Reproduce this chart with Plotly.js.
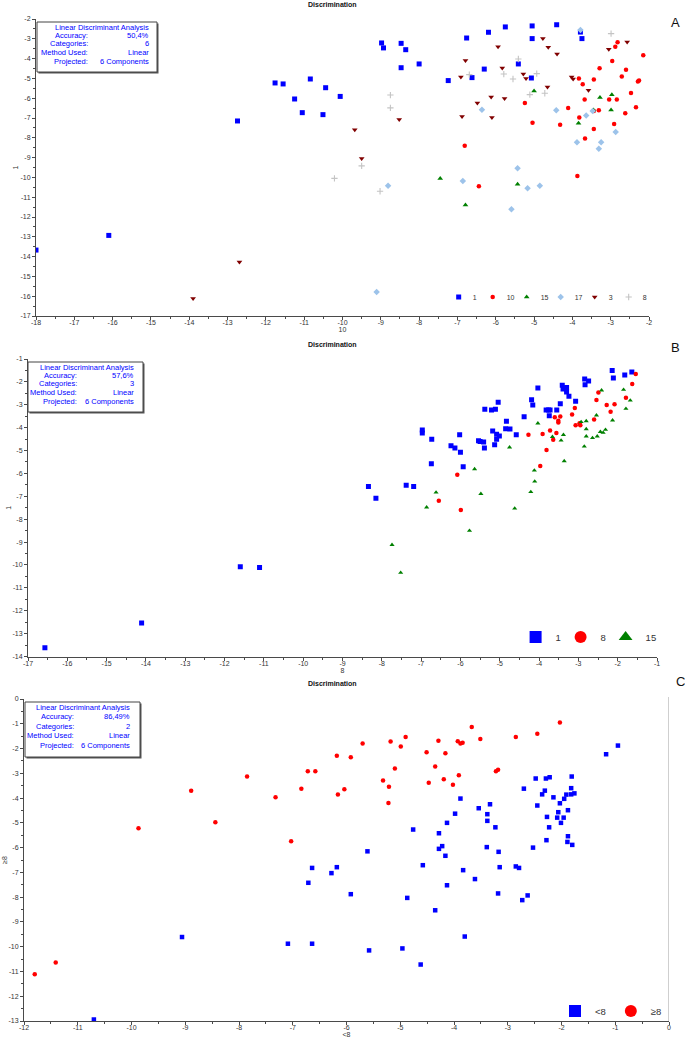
<!DOCTYPE html>
<html><head><meta charset="utf-8">
<script src="https://cdn.plot.ly/plotly-3.0.1.min.js"></script>
<style>html,body{margin:0;padding:0;background:#fff}#chart{width:685px;height:1042px}</style>
</head><body><div id="chart"></div>
<script>
// ---------- Panel A (6 categories) ----------
const A_cat1 = [[-18.00,-13.67],[-16.10,-12.93],[-12.74,-7.15],[-11.76,-5.23],[-11.55,-5.28],[-10.84,-5.03],[-10.44,-5.47],[-11.25,-6.04],[-10.06,-5.91],[-11.05,-6.73],[-10.51,-6.83],[-8.98,-3.21],[-8.93,-3.46],[-8.47,-3.23],[-8.35,-3.55],[-8.47,-4.46],[-8.00,-4.27],[-7.24,-5.11],[-6.76,-2.96],[-6.62,-4.96],[-6.30,-4.53],[-6.19,-2.67],[-5.75,-2.40],[-5.41,-4.27],[-5.05,-2.35],[-5.05,-2.99],[-5.07,-4.98],[-4.41,-2.29],[-3.79,-2.66],[-3.75,-2.99]];
const A_cat10 = [[-2.82,-3.18],[-2.88,-3.40],[-2.15,-3.83],[-2.96,-4.12],[-3.29,-4.49],[-2.60,-4.56],[-2.71,-4.90],[-2.29,-5.16],[-2.26,-5.10],[-3.83,-5.00],[-3.73,-5.30],[-3.44,-5.06],[-2.47,-5.74],[-3.68,-6.06],[-3.04,-6.07],[-2.84,-6.06],[-5.24,-6.24],[-4.11,-6.49],[-3.44,-6.65],[-3.31,-6.61],[-2.34,-6.46],[-2.62,-6.76],[-3.82,-6.97],[-5.04,-7.24],[-4.32,-7.34],[-2.91,-7.30],[-3.44,-7.56],[-3.67,-8.04],[-6.81,-8.40],[-3.87,-9.93],[-6.44,-10.45]];
const A_cat15 = [[-5.00,-5.64],[-3.28,-5.97],[-2.97,-5.82],[-3.45,-6.60],[-2.99,-6.60],[-3.84,-7.27],[-7.45,-10.05],[-5.43,-10.35],[-6.79,-11.39]];
const A_cat17 = [[-3.79,-2.56],[-6.36,-6.58],[-4.42,-6.61],[-3.64,-6.87],[-3.47,-6.65],[-2.87,-7.71],[-3.88,-8.23],[-3.25,-8.23],[-3.31,-8.55],[-5.43,-9.54],[-6.86,-10.18],[-8.81,-10.42],[-5.17,-10.55],[-4.85,-10.42],[-5.59,-11.61],[-9.11,-15.79]];
const A_cat3 = [[-4.77,-2.99],[-4.63,-3.43],[-4.40,-3.77],[-2.57,-3.16],[-3.05,-3.53],[-5.94,-3.40],[-6.79,-4.10],[-5.83,-4.47],[-5.28,-4.78],[-5.21,-5.01],[-6.91,-4.93],[-4.02,-4.93],[-3.98,-5.03],[-4.65,-5.43],[-3.58,-5.60],[-6.12,-5.94],[-5.77,-6.02],[-6.48,-6.24],[-6.88,-6.92],[-6.10,-6.97],[-8.52,-7.08],[-9.68,-7.59],[-9.50,-9.05],[-13.90,-16.11],[-12.69,-14.27]];
const A_cat8 = [[-2.99,-2.74],[-5.41,-4.02],[-6.69,-4.81],[-5.79,-4.78],[-5.55,-5.03],[-4.93,-4.76],[-5.11,-5.82],[-4.72,-5.75],[-8.75,-5.84],[-8.75,-6.49],[-9.50,-9.42],[-10.21,-10.05],[-9.02,-10.70]];
const A_xticks = [-18,-17,-16,-15,-14,-13,-12,-11,-10,-9,-8,-7,-6,-5,-4,-3,-2];
const A_yticks = [-17,-16,-15,-14,-13,-12,-11,-10,-9,-8,-7,-6,-5,-4,-3,-2];
const A_info = [["","Linear Discriminant Analysis"],["Accuracy:","50,4%"],["Categories:","6"],["Method Used:","Linear"],["Projected:","6 Components"]];

// ---------- Panel B (3 categories) ----------
const B_cat1 = [[-16.57,-13.62],[-14.11,-12.54],[-11.60,-10.08],[-11.11,-10.11],[-8.34,-6.57],[-8.15,-7.09],[-7.38,-6.52],[-7.19,-6.57],[-6.97,-4.10],[-6.97,-4.23],[-6.73,-4.51],[-6.74,-5.58],[-6.24,-4.79],[-6.14,-4.89],[-6.00,-5.07],[-6.02,-4.31],[-5.93,-5.71],[-5.54,-4.57],[-5.50,-4.60],[-5.41,-4.63],[-5.39,-4.89],[-5.38,-3.20],[-5.21,-3.23],[-5.11,-3.20],[-5.04,-2.89],[-5.18,-4.15],[-5.08,-4.29],[-5.01,-4.37],[-5.08,-4.51],[-5.13,-4.75],[-4.83,-3.72],[-4.85,-4.05],[-4.74,-4.06],[-4.58,-4.31],[-4.38,-3.52],[-4.19,-2.78],[-4.16,-3.01],[-4.03,-2.27],[-3.82,-3.23],[-3.76,-3.23],[-3.72,-3.23],[-3.74,-3.48],[-3.55,-3.23],[-3.46,-2.95],[-3.41,-2.15],[-3.39,-2.31],[-3.30,-2.24],[-3.30,-2.44],[-3.24,-2.63],[-3.07,-2.85],[-2.84,-1.87],[-2.74,-1.96],[-2.83,-2.12],[-2.14,-1.50],[-2.11,-1.83],[-1.82,-1.70],[-1.64,-1.57]];
const B_cat8 = [[-1.54,-1.66],[-1.63,-2.09],[-1.79,-2.69],[-2.49,-2.46],[-2.54,-2.79],[-2.28,-3.01],[-2.08,-2.98],[-2.18,-3.30],[-2.60,-3.64],[-3.09,-3.14],[-3.16,-3.42],[-3.07,-3.90],[-2.97,-3.81],[-2.95,-3.89],[-3.46,-3.51],[-3.51,-3.70],[-3.51,-3.77],[-3.60,-3.55],[-3.72,-4.12],[-3.56,-4.23],[-3.64,-4.53],[-3.91,-4.28],[-4.27,-4.31],[-3.81,-4.98],[-3.97,-5.68],[-6.08,-6.06],[-6.55,-7.19],[-5.99,-7.60]];
const B_cat15 = [[-2.41,-2.37],[-1.85,-2.34],[-1.68,-2.81],[-1.79,-3.17],[-2.54,-3.46],[-2.80,-3.71],[-2.93,-3.75],[-2.13,-3.68],[-2.80,-4.06],[-2.80,-4.38],[-2.31,-4.09],[-2.44,-4.18],[-2.37,-4.22],[-2.52,-4.38],[-2.64,-4.45],[-2.85,-4.82],[-3.38,-4.31],[-3.66,-4.40],[-3.44,-4.56],[-4.03,-3.81],[-4.75,-4.86],[-3.36,-5.46],[-4.12,-5.87],[-4.11,-6.35],[-4.21,-6.81],[-4.62,-7.53],[-5.48,-6.89],[-5.64,-5.81],[-6.62,-6.83],[-6.86,-7.48],[-5.77,-8.50],[-7.74,-9.12],[-7.52,-10.34]];
const B_xticks = [-17,-16,-15,-14,-13,-12,-11,-10,-9,-8,-7,-6,-5,-4,-3,-2,-1];
const B_yticks = [-14,-13,-12,-11,-10,-9,-8,-7,-6,-5,-4,-3,-2,-1];
const B_info = [["","Linear Discriminant Analysis"],["Accuracy:","57,6%"],["Categories:","3"],["Method Used:","Linear"],["Projected:","6 Components"]];

// ---------- Panel C (2 categories) ----------
const C_lt8 = [[-10.70,-12.94],[-9.06,-9.61],[-7.09,-9.88],[-6.64,-9.88],[-6.71,-7.42],[-6.64,-6.82],[-6.28,-7.03],[-6.18,-6.79],[-5.92,-7.88],[-5.61,-6.15],[-5.58,-10.15],[-4.96,-10.07],[-4.87,-8.03],[-4.76,-5.27],[-4.62,-10.72],[-4.58,-6.71],[-4.35,-8.53],[-4.28,-5.42],[-4.28,-6.05],[-4.22,-5.94],[-4.16,-6.33],[-4.13,-7.52],[-4.13,-5.00],[-3.98,-4.63],[-3.88,-4.02],[-3.83,-6.91],[-3.80,-9.59],[-3.61,-7.27],[-3.54,-4.41],[-3.39,-5.98],[-3.38,-4.92],[-3.38,-4.65],[-3.33,-4.25],[-3.23,-5.18],[-3.18,-7.85],[-3.17,-6.17],[-3.15,-6.79],[-2.85,-6.76],[-2.79,-6.82],[-2.73,-8.12],[-2.63,-7.93],[-2.70,-3.62],[-2.53,-6.00],[-2.48,-3.21],[-2.45,-4.30],[-2.36,-3.85],[-2.31,-3.70],[-2.29,-3.21],[-2.22,-3.16],[-2.28,-5.70],[-2.27,-4.76],[-2.23,-5.18],[-2.15,-3.97],[-2.08,-4.79],[-2.06,-4.57],[-2.03,-4.21],[-2.01,-5.00],[-1.96,-4.79],[-1.95,-4.03],[-1.91,-3.86],[-1.88,-4.49],[-1.88,-5.54],[-1.89,-5.77],[-1.82,-3.60],[-1.82,-3.85],[-1.81,-3.13],[-1.76,-3.81],[-1.80,-5.89],[-1.17,-2.23],[-0.95,-1.88]];
const C_ge8 = [[-11.80,-11.11],[-11.41,-10.64],[-9.87,-5.22],[-8.89,-3.70],[-8.44,-4.98],[-7.85,-3.13],[-7.32,-3.97],[-7.03,-5.74],[-6.84,-3.62],[-6.72,-2.92],[-6.58,-2.92],[-6.18,-2.29],[-6.16,-3.86],[-6.04,-3.64],[-5.92,-2.35],[-5.70,-1.80],[-5.18,-1.72],[-4.90,-1.53],[-4.99,-1.92],[-5.10,-2.81],[-5.32,-3.29],[-5.21,-3.54],[-5.22,-4.20],[-4.51,-2.15],[-4.29,-1.69],[-4.16,-2.19],[-4.35,-2.73],[-4.47,-3.38],[-4.19,-3.24],[-4.02,-3.46],[-3.91,-3.08],[-3.93,-1.71],[-3.88,-1.80],[-3.84,-1.77],[-3.67,-1.13],[-3.51,-1.61],[-3.22,-2.92],[-3.18,-2.86],[-2.85,-1.53],[-2.45,-1.40],[-2.03,-0.95]];
const C_xticks = [-12,-11,-10,-9,-8,-7,-6,-5,-4,-3,-2,-1,0];
const C_yticks = [-13,-12,-11,-10,-9,-8,-7,-6,-5,-4,-3,-2,-1,0];
const C_info = [["","Linear Discriminant Analysis"],["Accuracy:","86,49%"],["Categories:","2"],["Method Used:","Linear"],["Projected:","6 Components"]];

// ---------- layout helpers ----------
const W = 685, H = 1042;
const FONT = 'Liberation Sans, Arial, sans-serif';
const px = v => v / W;
const py = v => 1 - v / H;

function trace(pts, name, xa, ya, legend, symbol, color, size, lineW) {
  return {
    type: 'scatter', mode: 'markers', name: name,
    x: pts.map(p => p[0]), y: pts.map(p => p[1]),
    xaxis: xa, yaxis: ya, legend: legend,
    marker: {symbol: symbol, color: color, size: size, line: {width: lineW || 0, color: color}},
    hoverinfo: 'x+y+name'
  };
}

function axis(dom, range, anchor, ticks, title, standoff, isX) {
  const a = {
    domain: dom, range: range, anchor: anchor, fixedrange: true,
    showgrid: false, zeroline: false, showline: true, linecolor: '#4a4a4a', linewidth: 1,
    ticks: 'outside', ticklen: 3, tickwidth: 1, tickcolor: '#4a4a4a',
    tickmode: 'array', tickvals: ticks, ticktext: ticks.map(String),
    tickfont: {family: FONT, size: 7, color: '#333'},
    minor: {tickmode: 'linear', tick0: 0, dtick: 0.5, ticks: 'outside', ticklen: 2, tickwidth: 1, tickcolor: '#4a4a4a', showgrid: false},
    title: {text: title, font: {family: FONT, size: 7, color: '#333'}, standoff: standoff}
  };
  if (isX) a.ticklabelstandoff = -3;
  return a;
}

const shapes = [], annotations = [];
function infoBox(info, x0, y0, x1, y1, lineYs, labelX, valueX) {
  shapes.push({type: 'rect', xref: 'paper', yref: 'paper', x0: px(x0 + 1.5), x1: px(x1 + 1.5), y0: py(y0 + 1.5), y1: py(y1 + 1.5), fillcolor: '#555', line: {width: 0}});
  shapes.push({type: 'rect', xref: 'paper', yref: 'paper', x0: px(x0), x1: px(x1), y0: py(y0), y1: py(y1), fillcolor: '#fff', line: {color: '#444', width: 1}});
  info.forEach((row, i) => {
    if (row[0]) annotations.push({xref: 'paper', yref: 'paper', x: px(labelX), y: py(lineYs[i]), xanchor: 'right', yanchor: 'middle', showarrow: false, text: row[0], font: {family: FONT, size: 7.5, color: '#0000ff'}});
    annotations.push({xref: 'paper', yref: 'paper', x: px(valueX), y: py(lineYs[i]), xanchor: 'right', yanchor: 'middle', showarrow: false, text: row[1], font: {family: FONT, size: 7.5, color: '#0000ff'}});
  });
}
function label(text, x, y, size, bold) {
  annotations.push({xref: 'paper', yref: 'paper', x: px(x), y: py(y), xanchor: 'center', yanchor: 'middle', showarrow: false,
    text: bold ? '<b>' + text + '</b>' : text, font: {family: FONT, size: size, color: '#111'}});
}

infoBox(A_info, 37, 22, 157, 72, [27.3, 35.7, 44, 52.3, 61.3], 90, 151);
infoBox(B_info, 28, 362, 143, 412, [367, 375.3, 383.7, 392.3, 401.3], 79, 136);
infoBox(C_info, 25, 702, 140, 757, [707.7, 716.7, 726, 735.7, 745], 76, 132);
label('Discrimination', 332, 4.5, 7, true);
label('Discrimination', 332, 344, 7, true);
label('Discrimination', 332, 683, 7, true);
label('A', 675, 22, 13, false);
label('B', 675, 348, 13, false);
label('C', 680, 681, 13, false);

// right gray border of panel C
shapes.push({type: 'line', xref: 'x3', yref: 'paper', x0: 0, x1: 0, y0: py(1021), y1: py(697), line: {color: '#cfcfcf', width: 2}});

const data = [
  trace(A_cat1, '1', 'x', 'y', 'legend', 'square', '#0000ff', 5),
  trace(A_cat10, '10', 'x', 'y', 'legend', 'circle', '#ff0000', 4.5),
  trace(A_cat15, '15', 'x', 'y', 'legend', 'triangle-up', '#008000', 5),
  trace(A_cat17, '17', 'x', 'y', 'legend', 'diamond', '#9dc3ea', 5),
  trace(A_cat3, '3', 'x', 'y', 'legend', 'triangle-down', '#800000', 5),
  trace(A_cat8, '8', 'x', 'y', 'legend', 'cross-thin-open', '#c4c4c4', 4.5, 1.1),
  trace(B_cat1, '1', 'x2', 'y2', 'legend2', 'square', '#0000ff', 5),
  trace(B_cat8, '8', 'x2', 'y2', 'legend2', 'circle', '#ff0000', 4.5),
  trace(B_cat15, '15', 'x2', 'y2', 'legend2', 'triangle-up', '#008000', 4.5),
  trace(C_lt8, '<8', 'x3', 'y3', 'legend3', 'square', '#0000ff', 4.5),
  trace(C_ge8, '≥8', 'x3', 'y3', 'legend3', 'circle', '#ff0000', 4.5)
];

const legBase = {orientation: 'h', xanchor: 'right', yanchor: 'middle', bgcolor: 'rgba(0,0,0,0)', borderwidth: 0, itemclick: false, itemdoubleclick: false};

const layout = {
  width: W, height: H, margin: {l: 0, r: 0, t: 0, b: 0},
  paper_bgcolor: '#fff', plot_bgcolor: '#fff',
  font: {family: FONT, color: '#333'},
  showlegend: true,
  xaxis: axis([px(36), px(649)], [-18, -2], 'y', A_xticks, '10', 0, true),
  yaxis: axis([py(316), py(19)], [-17, -2], 'x', A_yticks, '1', 1, false),
  xaxis2: axis([px(28), px(657)], [-17, -1], 'y2', B_xticks, '8', 0, true),
  yaxis2: axis([py(656.5), py(359)], [-14, -1], 'x2', B_yticks, '1', 0, false),
  xaxis3: axis([px(24), px(669)], [-12, 0], 'y3', C_xticks, '<8', 0, true),
  yaxis3: axis([py(1021), py(699)], [-13, 0], 'x3', C_yticks, '≥8', 0, false),
  legend: Object.assign({}, legBase, {x: px(652), y: py(297), itemsizing: 'trace', font: {family: FONT, size: 7, color: '#333'}}),
  legend2: Object.assign({}, legBase, {x: px(659), y: py(637), itemsizing: 'constant', font: {family: FONT, size: 9.5, color: '#333'}}),
  legend3: Object.assign({}, legBase, {x: px(667), y: py(1011), itemsizing: 'constant', font: {family: FONT, size: 9.5, color: '#333'}}),
  shapes: shapes, annotations: annotations
};

// tighten the horizontal spacing of a legend's entries (keeps its right end in place)
function compressLegend(id, spacing, textX) {
  const g = document.querySelector('g.' + id);
  if (!g) return;
  const items = Array.from(g.querySelectorAll('g.traces'));
  if (!items.length) return;
  const pos = items.map(it => {
    const m = /translate\(\s*([-\d.e]+)[\s,]+([-\d.e]+)\s*\)/.exec(it.getAttribute('transform') || '');
    return m ? [parseFloat(m[1]), parseFloat(m[2])] : [0, 0];
  });
  const n = items.length;
  const t0 = items[n - 1].querySelector('text.legendtext');
  const oldTextX = t0 ? parseFloat(t0.getAttribute('x')) || 40 : 40;
  const shift = oldTextX - textX;
  items.forEach((it, i) => {
    const nx = pos[n - 1][0] + shift - (n - 1 - i) * spacing;
    it.setAttribute('transform', 'translate(' + nx + ',' + pos[i][1] + ')');
    const t = it.querySelector('text.legendtext');
    if (t) t.setAttribute('x', textX);
  });
}

Plotly.newPlot('chart', data, layout, {displayModeBar: false, responsive: false}).then(() => {
  compressLegend('legend', 34, 34);
  compressLegend('legend2', 45, 37);
});
</script></body></html>
